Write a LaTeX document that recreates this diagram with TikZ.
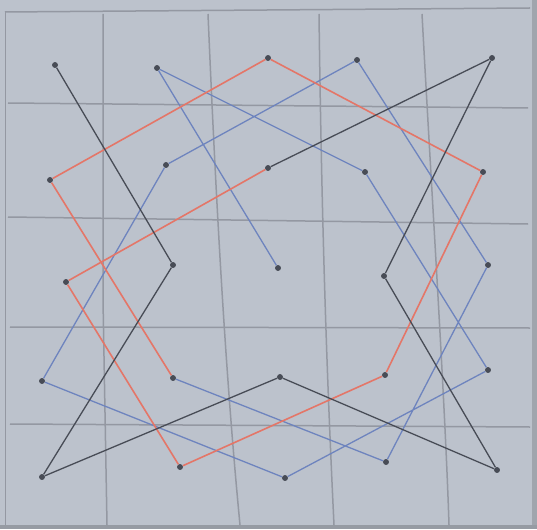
\documentclass[tikz,border=0pt]{standalone}
\usepackage{xcolor}
\definecolor{paper}{RGB}{188,194,204}
\definecolor{pencil}{RGB}{148,152,162}
\definecolor{tourblue}{RGB}{110,132,190}
\definecolor{tourred}{RGB}{228,118,104}
\definecolor{tourblack}{RGB}{72,76,86}
\tikzset{
  sq/.style={circle, fill=tourblack, inner sep=2.1pt},
  grid line/.style={pencil, line width=1.5pt},
}
\begin{document}
\begin{tikzpicture}[x=1pt, y=-1pt]
  \useasboundingbox (0,0) rectangle (537,529);
  % Paper
  \fill[paper] (0,0) rectangle (537,529);
  \fill[paper!85!black] (532,0) rectangle (537,529);
  \fill[paper!80!black] (0,525) rectangle (537,529);
  % Grid
  \draw[grid line] (5,12) -- (530,8);
  \draw[grid line, line width=0.6pt] (5,12) -- (5,525);
  \draw[grid line] (8,103) -- (528,108);
  \draw[grid line] (8,217) -- (528,224);
  \draw[grid line] (10,327) -- (530,328);
  \draw[grid line] (10,424) -- (530,427);
  \draw[grid line] (103,14) -- (103,300) -- (107,525);
  \draw[grid line] (208,14) .. controls (218,250) and (228,400) .. (240,525);
  \draw[grid line] (319,14) .. controls (322,250) and (328,400) .. (334,525);
  \draw[grid line] (422,14) .. controls (432,200) and (445,400) .. (449,525);
  % Squares
  \node[sq] (a) at (55,65) {};
  \node[sq] (b) at (157,68) {};
  \node[sq] (c) at (268,58) {};
  \node[sq] (d) at (357,60) {};
  \node[sq] (e) at (492,58) {};
  \node[sq] (f) at (50,180) {};
  \node[sq] (g) at (166,165) {};
  \node[sq] (h) at (268,168) {};
  \node[sq] (i) at (365,172) {};
  \node[sq] (j) at (483,172) {};
  \node[sq] (k) at (66,282) {};
  \node[sq] (l) at (173,265) {};
  \node[sq] (m) at (278,268) {};
  \node[sq] (n) at (384,276) {};
  \node[sq] (o) at (488,265) {};
  \node[sq] (p) at (42,381) {};
  \node[sq] (q) at (173,378) {};
  \node[sq] (r) at (280,377) {};
  \node[sq] (s) at (385,375) {};
  \node[sq] (t) at (488,370) {};
  \node[sq] (u) at (42,477) {};
  \node[sq] (v) at (180,467) {};
  \node[sq] (w) at (285,478) {};
  \node[sq] (x) at (386,462) {};
  \node[sq] (y) at (497,470) {};
  % Knight moves
  \draw[tourblue, line width=1.3pt] (m) -- (b) -- (i) -- (t) -- (w) -- (p) -- (g) -- (d) -- (o) -- (x) -- (q);
  \draw[tourred, line width=1.6pt] (q) -- (f) -- (c) -- (j) -- (s) -- (v) -- (k) -- (h);
  \draw[tourblack, line width=1.3pt] (h) -- (e) -- (n) -- (y) -- (r) -- (u) -- (l) -- (a);
\end{tikzpicture}
\end{document}
